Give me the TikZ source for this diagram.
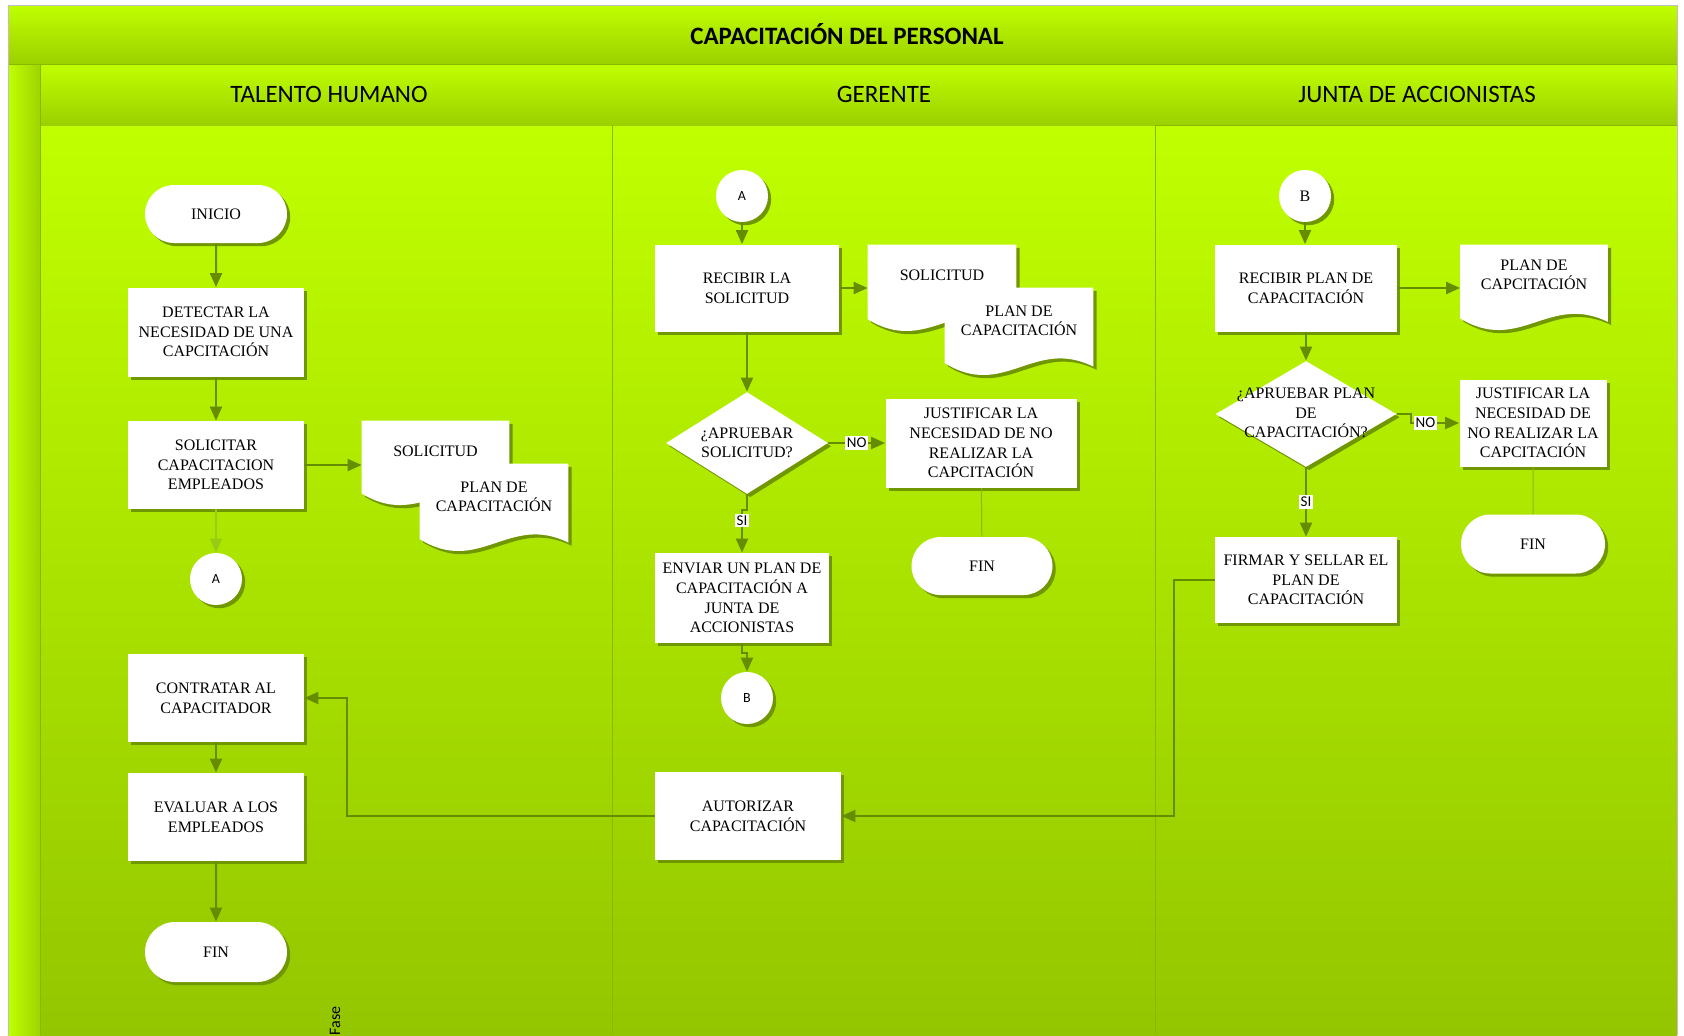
\documentclass[tikz,border=0pt]{standalone}
\usepackage{fontspec}
\setmainfont{Liberation Serif}
\newfontfamily\calibri{Carlito}
\usetikzlibrary{shapes.geometric,shapes.misc,arrows.meta,shadows,calc}

\definecolor{brightg}{RGB}{192,255,0}
\definecolor{laneb}{RGB}{148,198,0}
\definecolor{bandb}{RGB}{155,208,0}
\definecolor{stripr}{RGB}{158,212,0}
\definecolor{shadowc}{RGB}{112,150,0}
\definecolor{arrc}{RGB}{102,140,0}
\definecolor{arrl}{RGB}{150,205,20}
\definecolor{divc}{RGB}{135,185,0}

\newcommand\docshape[1]{%
  \foreach \sh/\col in {1.6pt/shadowc,0pt/white}{%
    \fill[\col] let \p1=(#1.north west), \p2=(#1.south east), \n1={\x2-\x1}, \n2={\y1-\y2} in
      (\x1+\sh,\y1-\sh) -- (\x2+\sh,\y1-\sh) -- (\x2+\sh,\y2+0.12*\n2-\sh)
      .. controls (\x1+0.6*\n1+\sh,\y2+0.45*\n2-\sh) and (\x1+0.4*\n1+\sh,\y2-0.25*\n2-\sh)
      .. (\x1+\sh,\y2+0.16*\n2-\sh) -- cycle;
  }}

\begin{document}
\begin{tikzpicture}[x=0.5pt,y=-0.5pt,
  shad/.style={drop shadow={shadow xshift=1.6pt,shadow yshift=-1.6pt,fill=shadowc,opacity=1}},
  proc/.style={rectangle,fill=white,shad,align=center,inner sep=1pt,font=\fontsize{8}{9.8}\selectfont},
  pill/.style={rounded rectangle,fill=white,shad,inner sep=1pt,font=\fontsize{8}{9.8}\selectfont},
  conn/.style={circle,fill=white,shad,inner sep=0pt,minimum size=26pt},
  dec/.style={diamond,fill=white,shad,inner sep=0pt},
  docnode/.style={rectangle,inner sep=0pt},
  ptext/.style={align=center,inner sep=0pt,font=\fontsize{8}{9.8}\selectfont},
  arr/.style={draw=arrc,line width=1pt,-{Triangle[length=7pt,width=6pt]}},
  thinln/.style={draw=arrl!70!arrc,line width=0.5pt},
  lbl/.style={fill=white,inner sep=0.8pt,font=\calibri\fontsize{7.5}{8}\selectfont},
  head/.style={font=\calibri\fontsize{12.5}{14}\selectfont}
]
\useasboundingbox (0,0) rectangle (1684,1035);
% backgrounds
\fill[white] (0,0) rectangle (1684,1035);
\fill[top color=brightg,bottom color=laneb] (40,125) rectangle (1677,1035);
\fill[left color=brightg,right color=stripr] (8,64) rectangle (40,1035);
\fill[top color=brightg,bottom color=bandb] (8,5) rectangle (1677,64);
\fill[top color=brightg,bottom color=bandb] (40,64) rectangle (1677,125);
\draw[divc,line width=0.4pt] (8,64) -- (1677,64);
\draw[divc,line width=0.4pt] (1155,125) -- (1677,125);
\draw[divc,line width=0.4pt] (40,64) -- (40,1035);
\draw[divc,line width=0.5pt] (612,125) -- (612,1035);
\draw[divc,line width=0.5pt] (1155,125) -- (1155,1035);
\draw[black!25,line width=0.4pt] (8,1035) -- (8,5) -- (1677,5) -- (1677,1035);

% headers
\node[font=\calibri\bfseries\fontsize{12.5}{14}\selectfont] (title) at (847,34) {CAPACITACIÓN DEL PERSONAL};
\node[head] (h1) at (329,94) {TALENTO HUMANO};
\node[head] (h2) at (884,94) {GERENTE};
\node[head] (h3) at (1417,94) {JUNTA DE ACCIONISTAS};

% lane 1
\node[pill,minimum width=73pt,minimum height=29pt] (ini) at (216,214) {INICIO};
\node[proc,minimum width=88pt,minimum height=44.5pt] (det) at (216,332) {DETECTAR LA\\NECESIDAD DE UNA\\CAPCITACIÓN};
\node[proc,minimum width=88pt,minimum height=44pt] (sol) at (216,465) {SOLICITAR\\CAPACITACION\\EMPLEADOS};
\node[conn] (a1) at (216,579) {\calibri\fontsize{7}{8}\selectfont A};
\node[proc,minimum width=88pt,minimum height=44pt] (con) at (216,698) {CONTRATAR AL\\CAPACITADOR};
\node[proc,minimum width=88pt,minimum height=44pt] (eva) at (216,817) {EVALUAR A LOS\\EMPLEADOS};
\node[pill,minimum width=73pt,minimum height=30pt] (fin1) at (216,952) {FIN};
\node[rotate=90,font=\calibri\fontsize{8}{9}\selectfont,inner sep=0pt] (fase) at (335,1021) {Fase};

\node[docnode,minimum width=73.5pt,minimum height=43pt] (s1) at (435.5,464) {};
\docshape{s1}
\node[ptext] (s1t) at ([yshift=-15.5pt]s1.north) {SOLICITUD};
\node[docnode,minimum width=74pt,minimum height=44.5pt] (p1) at (494,508.5) {};
\docshape{p1}
\node[ptext] (p1t) at ([yshift=-16.5pt]p1.north) {PLAN DE\\CAPACITACIÓN};

% lane 2
\node[conn] (a2) at (742,196) {\calibri\fontsize{7}{8}\selectfont A};
\node[proc,minimum width=92pt,minimum height=43.5pt] (rec) at (747,288) {RECIBIR LA\\SOLICITUD};
\node[docnode,minimum width=74pt,minimum height=44pt] (s2) at (942,289) {};
\docshape{s2}
\node[ptext] (s2t) at ([yshift=-15.5pt]s2.north) {SOLICITUD};
\node[docnode,minimum width=74pt,minimum height=44.5pt] (p2) at (1019,332.5) {};
\docshape{p2}
\node[ptext] (p2t) at ([yshift=-16.5pt]p2.north) {PLAN DE\\CAPACITACIÓN};
\node[dec,minimum width=81pt,minimum height=51pt] (d1) at (747,443) {};
\node[ptext] (d1t) at (d1) {¿APRUEBAR\\SOLICITUD?};
\node[proc,minimum width=95.5pt,minimum height=44.5pt] (j2) at (981,443) {JUSTIFICAR LA\\NECESIDAD DE NO\\REALIZAR LA\\CAPCITACIÓN};
\node[pill,minimum width=72.5pt,minimum height=29pt] (fin2) at (982,566) {FIN};
\node[proc,minimum width=87pt,minimum height=45pt] (env) at (742,598) {ENVIAR UN PLAN DE\\CAPACITACIÓN A\\JUNTA DE\\ACCIONISTAS};
\node[conn] (b2) at (747,698) {\calibri\fontsize{7}{8}\selectfont B};
\node[proc,minimum width=93pt,minimum height=44pt] (aut) at (748,816) {AUTORIZAR\\CAPACITACIÓN};

% lane 3
\node[conn,font=\fontsize{8}{9}\selectfont] (b3) at (1305,196) {B};
\node[proc,minimum width=91pt,minimum height=43.5pt] (rec3) at (1306,288) {RECIBIR PLAN DE\\CAPACITACIÓN};
\node[docnode,minimum width=73.5pt,minimum height=43.5pt] (p3) at (1534,288.5) {};
\docshape{p3}
\node[ptext] (p3t) at ([yshift=-15pt]p3.north) {PLAN DE\\CAPCITACIÓN};
\node[dec,minimum width=90.5pt,minimum height=53pt] (d2) at (1306,414) {};
\node[ptext] (d2t) at (1306,413) {¿APRUEBAR PLAN\\DE\\CAPACITACIÓN?};
\node[proc,minimum width=73.5pt,minimum height=43.5pt] (j3) at (1533,423) {JUSTIFICAR LA\\NECESIDAD DE\\NO REALIZAR LA\\CAPCITACIÓN};
\node[pill,minimum width=74pt,minimum height=29.5pt] (fin3) at (1533,544) {FIN};
\node[proc,minimum width=91pt,minimum height=43pt] (fir) at (1306,580) {FIRMAR Y SELLAR EL\\PLAN DE\\CAPACITACIÓN};

% connectors
\draw[arr] (ini) -- (det);
\draw[arr] (det) -- (sol);
\draw[arr,draw=arrl] (sol) -- (a1);
\draw[arr] (sol.east) -- (sol.east -| s1.west);
\coordinate (k1) at (347,816);
\draw[arr] (aut.west) -- (k1) |- (con.east);
\draw[arr] (con) -- (eva);
\draw[arr] (eva) -- (fin1);

\draw[arr] (a2) -- (a2 |- rec.north);
\draw[arr] (rec.east) -- (rec.east -| s2.west);
\draw[arr] (rec) -- (d1);
\draw[arr] (d1.east) -- node[lbl]{NO} (j2.west);
\draw[thinln] (j2) -- (fin2);
\draw[arr] (d1.south) -- ++(0,16) -| node[lbl,pos=0.62]{SI} (env.north);
\draw[arr] (env.south) -- ++(0,10) -| (b2.north);
\coordinate (k2) at (1174,816);
\draw[arr] (fir.west) -| (k2) -- (aut.east);

\draw[arr] (b3) -- (b3 |- rec3.north);
\draw[arr] (rec3.east) -- (rec3.east -| p3.west);
\draw[arr] (rec3) -- (d2);
\draw[arr] (d2.east) -- ++(14,0) |- node[lbl,pos=0.65]{NO} (j3.west);
\draw[thinln] (j3) -- (fin3);
\draw[arr] (d2) -- node[lbl]{SI} (fir);
\end{tikzpicture}
\end{document}
